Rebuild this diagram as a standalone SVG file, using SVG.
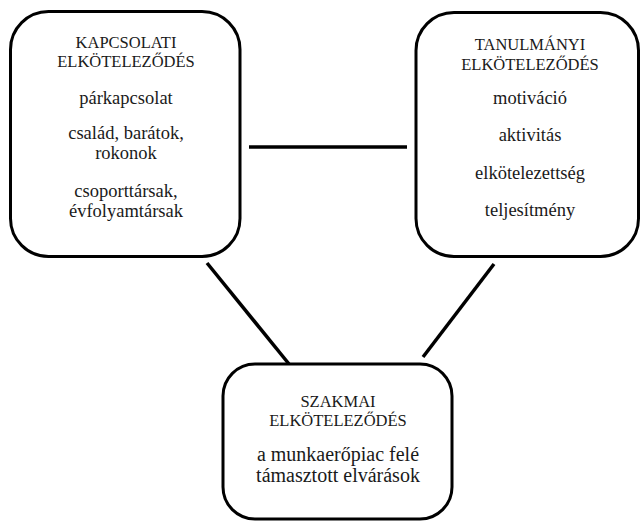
<svg xmlns="http://www.w3.org/2000/svg" width="641" height="522" viewBox="0 0 641 522">
<style>
.box{fill:#fff;stroke:#000;stroke-width:3}
.ln{stroke:#000;stroke-width:3.5;fill:none}
text{font-family:"Liberation Serif","Times New Roman",serif;fill:#1a1a1a;text-anchor:middle}
.h{font-size:16.5px}
.t{font-size:18.5px}
.b{font-size:20px}
</style>
<rect width="641" height="522" fill="#fff"/>
<g id="connectors">
<line class="ln" x1="249" y1="147" x2="407" y2="147"/>
<line class="ln" x1="207" y1="263" x2="289" y2="364"/>
<line class="ln" x1="423" y1="357" x2="494" y2="264"/>
</g>
<g id="kapcsolati">
<rect class="box" x="10.5" y="11.5" width="229.5" height="245" rx="38"/>
<text class="h" x="126" y="48">KAPCSOLATI</text>
<text class="h" x="126" y="67">ELKÖTELEZŐDÉS</text>
<text class="t" x="126" y="104">párkapcsolat</text>
<text class="t" x="126" y="139">család, barátok,</text>
<text class="t" x="126" y="158.5">rokonok</text>
<text class="t" x="126" y="197">csoporttársak,</text>
<text class="t" x="126" y="216.5">évfolyamtársak</text>
</g>
<g id="tanulmanyi">
<rect class="box" x="416" y="12.5" width="222.5" height="244" rx="38"/>
<text class="h" x="530" y="50">TANULMÁNYI</text>
<text class="h" x="530" y="70">ELKÖTELEZŐDÉS</text>
<text class="t" x="530" y="104">motiváció</text>
<text class="t" x="530" y="141">aktivitás</text>
<text class="t" x="530" y="179">elkötelezettség</text>
<text class="t" x="530" y="216">teljesítmény</text>
</g>
<g id="szakmai">
<rect class="box" x="223" y="364" width="229" height="155" rx="32"/>
<text class="h" x="338" y="407">SZAKMAI</text>
<text class="h" x="338" y="425.5">ELKÖTELEZŐDÉS</text>
<text class="b" x="338" y="461">a munkaerőpiac felé</text>
<text class="b" x="338" y="481.5">támasztott elvárások</text>
</g>
</svg>
